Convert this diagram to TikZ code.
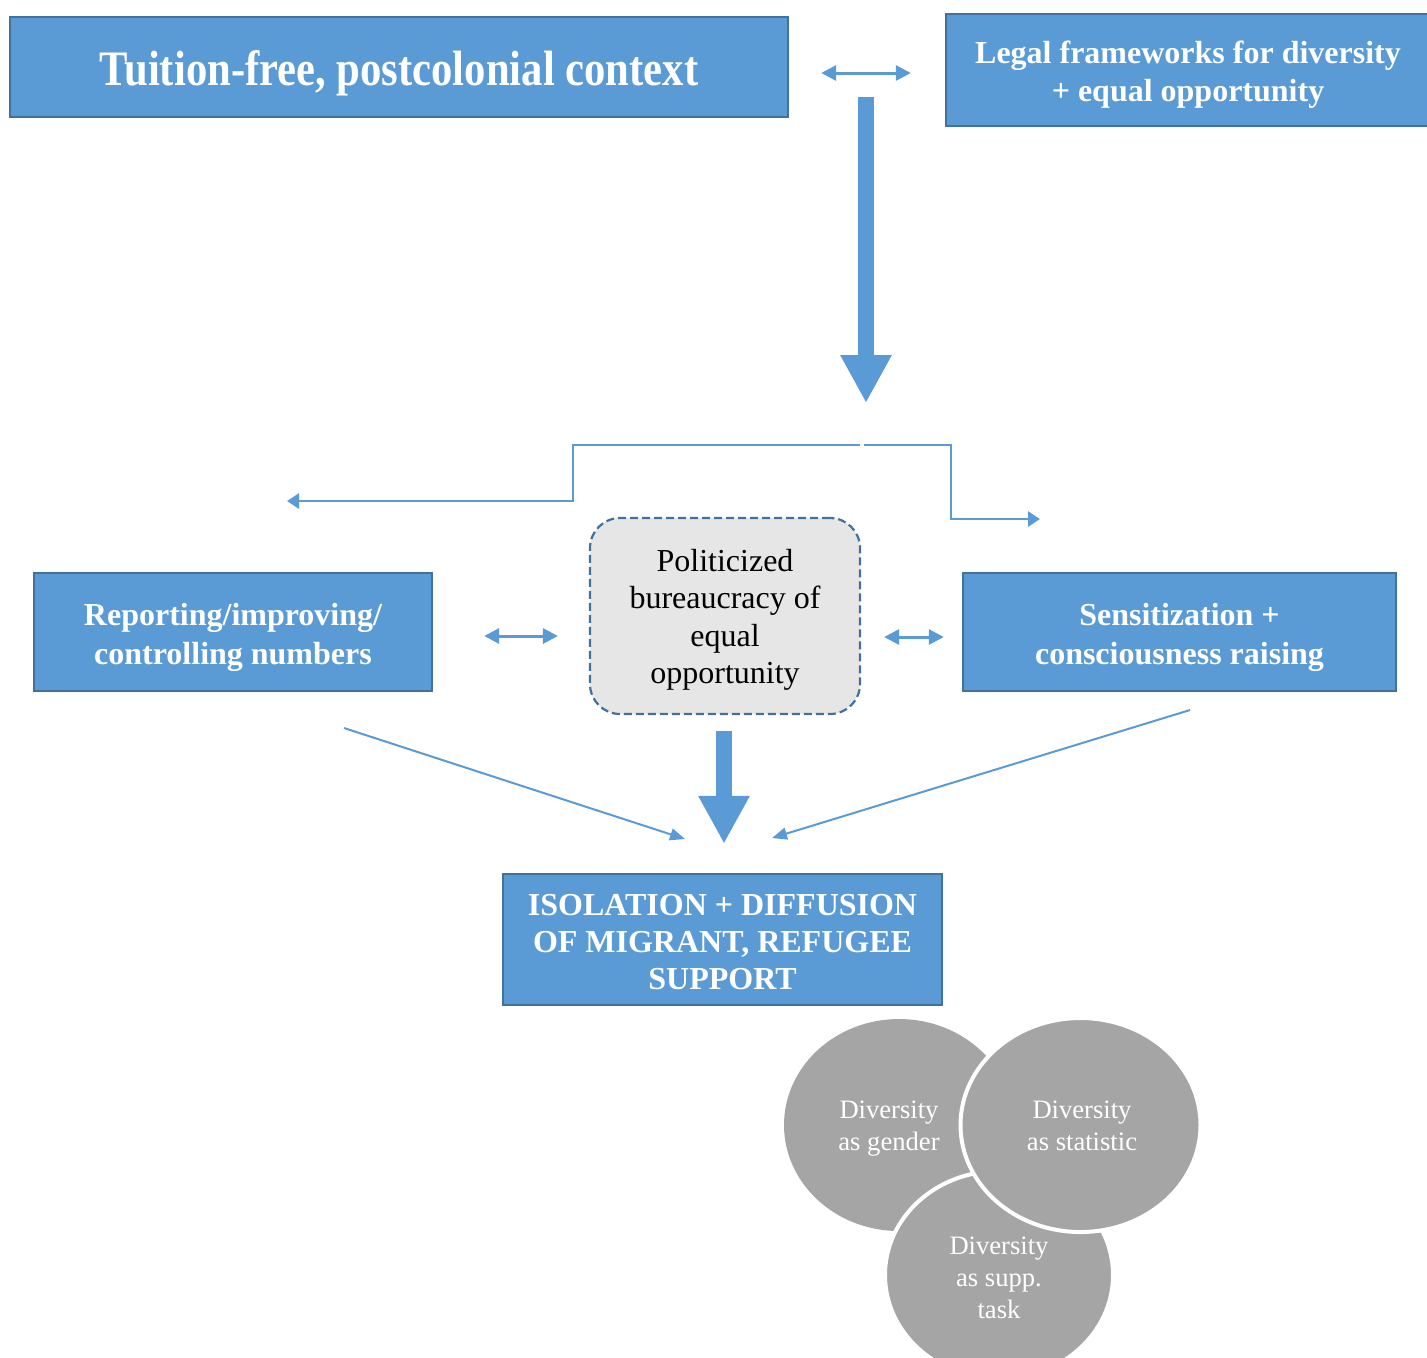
\documentclass[tikz,border=0pt]{standalone}
\usepackage{fontspec}
\setmainfont{Liberation Serif}
\newfontfamily\titlefont{Liberation Serif}[FakeStretch=0.86]
\usetikzlibrary{arrows.meta,calc}

\definecolor{boxblue}{HTML}{5B9BD5}
\definecolor{edgeblue}{HTML}{41719C}
\definecolor{softgray}{HTML}{E7E6E6}
\definecolor{circgray}{HTML}{A5A5A5}

% centred block of lines, drawn a little below its box's centre
\newcommand\boxlines[2][2.5pt]{%
  \raisebox{-#1}[\height][\depth]{\begin{tabular}{@{}c@{}}#2\end{tabular}}}

\tikzset{
  bluebox/.style={draw=edgeblue, line width=1.2pt, fill=boxblue, text=white,
    align=center, inner sep=0pt,
    font=\fontsize{16}{18.5}\selectfont\bfseries},
  midbox/.style={draw=edgeblue, line width=1.1pt, dashed, dash pattern=on 4pt off 2pt,
    fill=softgray, rounded corners=15pt, align=center, inner sep=0pt,
    font=\fontsize{16}{18.8}\selectfont},
  twoway/.style={draw=boxblue, line width=1.5pt,
    {Triangle[length=7.5pt,width=7.5pt]}-{Triangle[length=7.5pt,width=7.5pt]}},
  elbow/.style={draw=boxblue, line width=1.4pt, -{Triangle[length=6pt,width=7.5pt]}},
  slim/.style={draw=boxblue, line width=1pt, -{Triangle[length=7.5pt,width=6pt]}},
  fat/.style={draw=boxblue, line width=8pt, -{Triangle[length=24pt,width=24pt]}},
  disc/.style={fill=circgray, draw=white, line width=2pt},
  disctext/.style={text=white, align=center, inner sep=0pt,
    font=\fontsize{13.3}{16}\selectfont}
}

\begin{document}
\begin{tikzpicture}[x=0.5pt, y=-0.5pt]
\clip (0,0) rectangle (1427,1357);
\useasboundingbox (0,0) rectangle (1427,1357);

% top row
\node[bluebox, minimum width=389pt, minimum height=50pt,
      font=\titlefont\fontsize{24.8}{28}\selectfont\bfseries] (context) at (399,67)
  {\boxlines[3.5pt]{Tuition-free, postcolonial context}};
\node[bluebox, minimum width=242pt, minimum height=56pt,
      font=\fontsize{16}{19}\selectfont\bfseries] (legal) at (1188,70)
  {\boxlines[2.5pt]{Legal frameworks for diversity\\+ equal opportunity}};

% middle row
\node[bluebox, minimum width=199pt, minimum height=59pt,
      font=\fontsize{16}{19.5}\selectfont\bfseries] (report) at (233,632)
  {\boxlines{Reporting/improving/\\controlling numbers}};
\node[midbox, minimum width=135pt, minimum height=98pt] (bureau) at (725,616)
  {\boxlines[2pt]{Politicized\\bureaucracy of\\equal\\opportunity}};
\node[bluebox, minimum width=216.5pt, minimum height=59pt,
      font=\fontsize{16}{19.5}\selectfont\bfseries] (sense) at (1179.5,632)
  {\boxlines{Sensitization +\\consciousness raising}};

% outcome
\node[bluebox, minimum width=219.5pt, minimum height=65.5pt] (outcome) at (722.5,939.5)
  {\boxlines[3pt]{ISOLATION + DIFFUSION\\OF MIGRANT, REFUGEE\\SUPPORT}};

% free ends of connectors
\coordinate (fatTop) at (866,97);
\coordinate (fatTip) at (866,403);
\coordinate (splitL) at (860,445);
\coordinate (splitR) at (864,445);
\coordinate (endL) at (287,501);
\coordinate (endR) at (1040,519);
\coordinate (diagLs) at (344,728);
\coordinate (diagLe) at (685,839);
\coordinate (diagRs) at (1190,710);
\coordinate (diagRe) at (772,838);

% connectors
\draw[twoway] ($(context.east)+(32,6)$) -- ($(legal.west)+(-34,3)$);
\draw[fat] (fatTop) -- (fatTip);
\draw[elbow] (splitL) -- (573,445) -- (573,501) -- (endL);
\draw[elbow] (splitR) -- (951,445) -- (951,519) -- (endR);
\draw[twoway] ($(report.east)+(51,4)$) -- ($(bureau.west)+(-31,20)$);
\draw[twoway] ($(bureau.east)+(23,21)$) -- ($(sense.west)+(-18,5)$);
\draw[fat] ($(bureau.south)+(-1,16)$) -- ($(outcome.north)+(1.5,-29)$);
\draw[slim] (diagLs) -- (diagLe);
\draw[slim] (diagRs) -- (diagRe);

% overlapping discs
\path[disc, draw=none] (899,1125) ellipse [x radius=115, y radius=106];
\path[disc] (999,1275) ellipse [x radius=114, y radius=104];
\path[disc] (1080.5,1125) ellipse [x radius=120, y radius=107];
\node[disctext] (gender) at (889,1129) {Diversity\\as gender};
\node[disctext] (stat) at (1082,1126) {Diversity\\as statistic};
\node[disctext] (supp) at (999,1278) {Diversity\\as supp.\\task};
\end{tikzpicture}
\end{document}
